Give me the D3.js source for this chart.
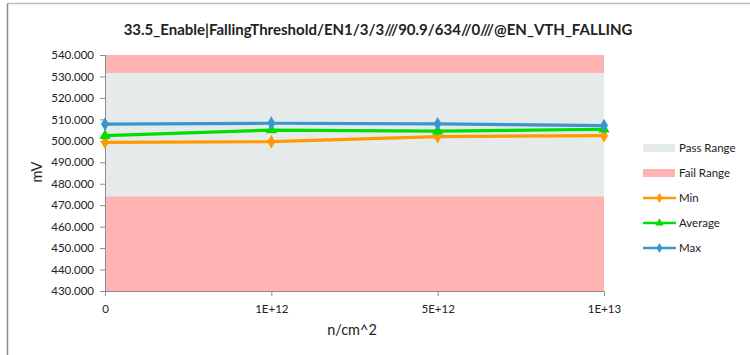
<!DOCTYPE html>
<html>
<head>
<meta charset="utf-8">
<script src="https://cdn.jsdelivr.net/npm/d3@7/dist/d3.min.js"></script>
<style>
  body { margin: 0; background: #fff; }
  svg text { font-family: Lato, "Open Sans", sans-serif; fill: #222; }
</style>
</head>
<body>
<svg id="chart" width="750" height="355"></svg>
<script>
// Fluence categories along the x axis
const categories = ["0", "1E+12", "5E+12", "1E+13"];
// Measured falling threshold (mV) per fluence
const minValues = [499.3, 499.6, 502.0, 502.4];
const avgValues = [502.4, 505.0, 504.5, 505.4];
const maxValues = [507.8, 508.2, 507.9, 507.1];
// Pass window limits (mV)
const passLimits = [474.1, 531.4];
// Y axis range and ticks
const yDomain = [430, 540];
const yTicks = [430, 440, 450, 460, 470, 480, 490, 500, 510, 520, 530, 540];

const svg = d3.select("#chart");
const plot = { left: 105, right: 604, top: 55, bottom: 291 };

// outer frame (top and left edges)
svg.append("line").attr("x1", 7.5).attr("x2", 750).attr("y1", 3.5).attr("y2", 3.5)
  .attr("stroke", "#bdbdbd").attr("stroke-width", 1.5);
svg.append("line").attr("x1", 7.5).attr("x2", 7.5).attr("y1", 3.5).attr("y2", 355)
  .attr("stroke", "#8a8a8a").attr("stroke-width", 1.5);

const x = d3.scalePoint().domain(categories).range([plot.left, plot.right]);
const y = d3.scaleLinear().domain(yDomain).range([plot.bottom, plot.top]);

// background bands: fail above, pass window, fail below
const bands = [
  { lo: passLimits[1], hi: yDomain[1], color: "#ffb3b3" },
  { lo: passLimits[0], hi: passLimits[1], color: "#e5eaea" },
  { lo: yDomain[0], hi: passLimits[0], color: "#ffb3b3" }
];
svg.append("g").selectAll("rect").data(bands).join("rect")
  .attr("x", plot.left).attr("width", plot.right - plot.left)
  .attr("y", d => y(d.hi)).attr("height", d => y(d.lo) - y(d.hi))
  .attr("fill", d => d.color);

// axes
const yAxis = svg.append("g").attr("transform", `translate(${plot.left},0)`)
  .call(d3.axisLeft(y).tickValues(yTicks).tickFormat(d3.format(".3f")).tickSize(5).tickPadding(6));
const xAxis = svg.append("g").attr("transform", `translate(0,${plot.bottom})`)
  .call(d3.axisBottom(x).tickSize(5).tickPadding(9));
[yAxis, xAxis].forEach(g => {
  g.selectAll("path, line").attr("stroke", "#8c8c8c");
  g.selectAll("text").attr("font-size", 11.5).attr("font-family", "Lato, sans-serif").attr("fill", "#222");
});

// series
const series = [
  { name: "Min", values: minValues, color: "#ff9900", marker: "diamond" },
  { name: "Average", values: avgValues, color: "#00dd00", marker: "triangle" },
  { name: "Max", values: maxValues, color: "#3a96cf", marker: "diamond" }
];
const symbolOf = (m, s) => d3.symbol().type(m === "triangle" ? d3.symbolTriangle : d3.symbolDiamond).size(s);
const line = d3.line().x((d, i) => x(categories[i])).y(d => y(d));

series.forEach(s => {
  svg.append("path").datum(s.values).attr("d", line)
    .attr("fill", "none").attr("stroke", s.color).attr("stroke-width", 3.2);
  svg.append("g").selectAll("path").data(s.values).join("path")
    .attr("transform", (d, i) => `translate(${x(categories[i])},${y(d)})`)
    .attr("d", symbolOf(s.marker, 55)()).attr("fill", s.color);
});

// title and axis titles
svg.append("text").attr("x", 378).attr("y", 35).attr("text-anchor", "middle")
  .attr("font-size", 15).attr("font-weight", "bold")
  .text("33.5_Enable|FallingThreshold/EN1/3/3///90.9/634//0///@EN_VTH_FALLING");
svg.append("text").attr("transform", "translate(42,172) rotate(-90)").attr("text-anchor", "middle")
  .attr("font-size", 14.5).text("mV");
svg.append("text").attr("x", 352).attr("y", 335).attr("text-anchor", "middle")
  .attr("font-size", 14.5).text("n/cm^2");

// legend
const legend = [
  { name: "Pass Range", type: "box", color: "#e5eaea" },
  { name: "Fail Range", type: "box", color: "#ffb3b3" },
  ...series.map(s => ({ name: s.name, type: "line", color: s.color, marker: s.marker }))
];
const lg = svg.append("g").selectAll("g").data(legend).join("g")
  .attr("transform", (d, i) => `translate(643,${148 + i * 25})`);
lg.filter(d => d.type === "box").append("rect")
  .attr("x", 0).attr("y", -4).attr("width", 32).attr("height", 8).attr("fill", d => d.color);
lg.filter(d => d.type === "line").append("line")
  .attr("x1", 0).attr("x2", 33).attr("y1", 0).attr("y2", 0)
  .attr("stroke", d => d.color).attr("stroke-width", 2.5);
lg.filter(d => d.type === "line").append("path")
  .attr("transform", "translate(16.5,0)")
  .attr("d", d => symbolOf(d.marker, 30)()).attr("fill", d => d.color);
lg.append("text").attr("x", 36).attr("y", 4).attr("font-size", 11.5).text(d => d.name);
</script>
</body>
</html>
